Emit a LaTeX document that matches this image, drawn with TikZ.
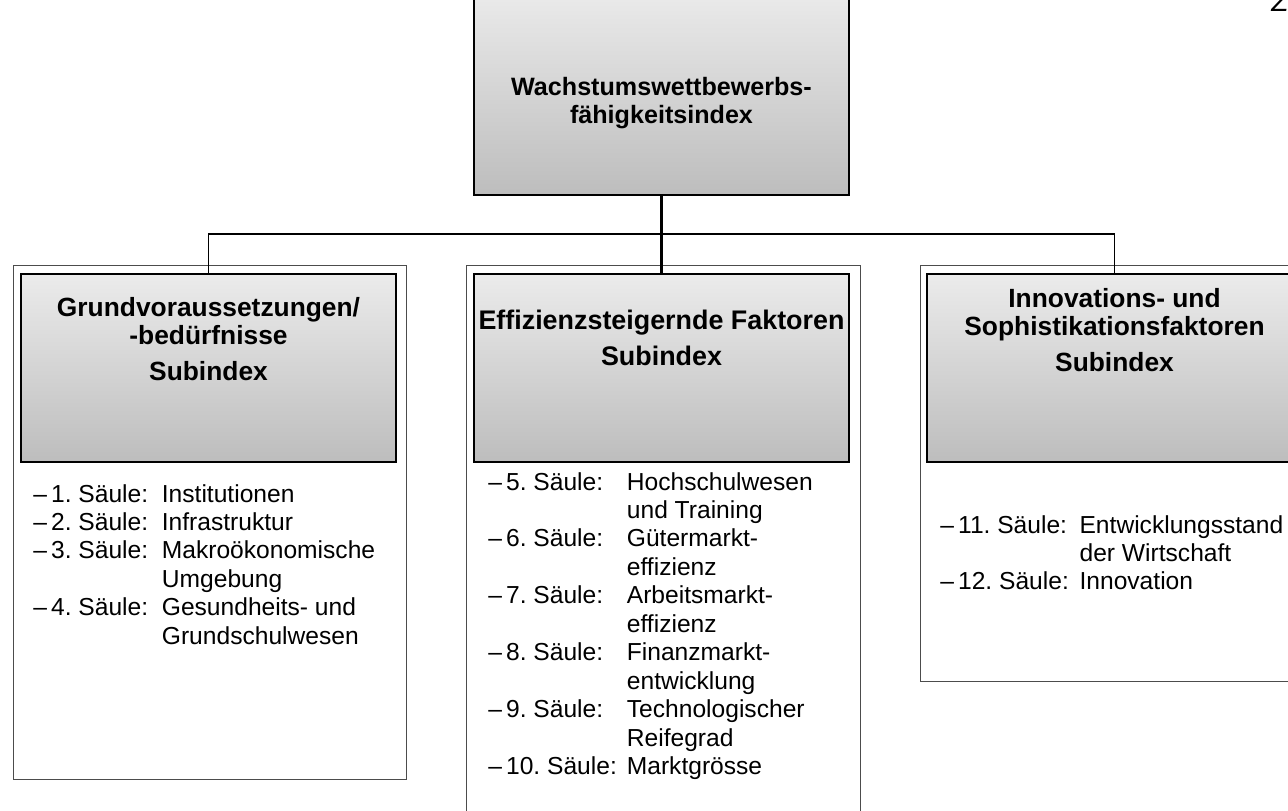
\documentclass[tikz,border=0pt]{standalone}
\usepackage{fontspec}
\setmainfont{Liberation Sans}
\usetikzlibrary{positioning}
\definecolor{shadetop}{HTML}{EBEBEB}
\definecolor{shadebot}{HTML}{BDBDBD}
\tikzset{indexbox/.style={shape=rectangle,draw=black,line width=1pt,outer sep=0pt,
        top color=shadetop,bottom color=shadebot,
        minimum width=7.5cm,minimum height=3.76cm},
        subframe/.style={shape=rectangle,draw=black!70,line width=0.6pt,
        outer sep=0pt,minimum width=7.87cm},
        head/.style={align=center,inner sep=0pt,
        font=\bfseries\fontsize{15}{15.9}\selectfont},
        pillars/.style={anchor=base west,inner sep=0pt,
        font=\fontsize{14}{16.2}\selectfont},
        busline/.style={line width=0.9pt}}
\newcommand{\saeule}[2]{--\,#1.\ Säule: & #2\\}
\newcommand{\weiter}[1]{& #1\\}

\begin{document}
\begin{tikzpicture}[x=0.02cm,y=-0.02cm]
  \useasboundingbox (0,0) rectangle (1288,811);
  %% outer frames
  \node[subframe,minimum height=10.3cm] (frameL) at (210,522.5) {};
  \node[subframe,minimum height=11.3cm] (frameM) at (663.5,547.5) {};
  \node[subframe,minimum height=8.34cm] (frameR) at (1117.5,473.5) {};
  %% index boxes
  \node[indexbox,minimum height=4.1cm] (root) at (661.5,92.5) {};
  \node[indexbox] (basic) at (208.5,368) {};
  \node[indexbox] (effic) at (661.5,368) {};
  \node[indexbox] (innov) at (1114.5,368) {};
  %% headings
  \node[head,font=\bfseries\fontsize{14.3}{16.4}\selectfont] (rootT) at (661.5,103)
       {Wachstumswettbewerbs-\\fähigkeitsindex};
  \node[head] (basicT) at (208.5,339)
       {Grundvoraussetzungen/\\-bedürfnisse\\[4.5pt]Subindex};
  \node[head,font=\bfseries\fontsize{15.3}{15.9}\selectfont] (efficT) at (661.5,338)
       {Effizienzsteigernde Faktoren\\[4.5pt]Subindex};
  \node[head] (innovT) at (1114.5,330)
       {Innovations- und\\Sophistikationsfaktoren\\[4.5pt]Subindex};
  %% connectors
  \coordinate (bus) at (661.5,234);
  \draw[busline] (basic.north) |- (bus) -| (innov.north);
  \draw[busline,line width=1.2pt] (root.south) -- (effic.north);
  %% pillars
  \node[pillars] (listL) at (33,502) {\begin{tabular}[t]{@{}l@{\ \hspace{3.9pt}}l@{}}
      \saeule{1}{Institutionen}
      \saeule{2}{Infrastruktur}
      \saeule{3}{Makroökonomische}
      \weiter{Umgebung}
      \saeule{4}{Gesundheits- und}
      \weiter{Grundschulwesen}
    \end{tabular}};
  \node[pillars] (listM) at (488,490) {\begin{tabular}[t]{@{}l@{\ \hspace{1.8pt}}l@{}}
      \saeule{5}{Hochschulwesen}
      \weiter{und Training}
      \saeule{6}{Gütermarkt-}
      \weiter{effizienz}
      \saeule{7}{Arbeitsmarkt-}
      \weiter{effizienz}
      \saeule{8}{Finanzmarkt-}
      \weiter{entwicklung}
      \saeule{9}{Technologischer}
      \weiter{Reifegrad}
      \saeule{10}{Marktgrösse}
    \end{tabular}};
  \node[pillars] (listR) at (940,533) {\begin{tabular}[t]{@{}l@{\ \hspace{2.2pt}}l@{}}
      \saeule{11}{Entwicklungsstand}
      \weiter{der Wirtschaft}
      \saeule{12}{Innovation}
    \end{tabular}};
  %% cut-off letter in the corner
  \node[anchor=base west,inner sep=0pt,font=\itshape\fontsize{16}{16}\selectfont]
       (corner) at (1271,12) {Z};
\end{tikzpicture}
\end{document}
